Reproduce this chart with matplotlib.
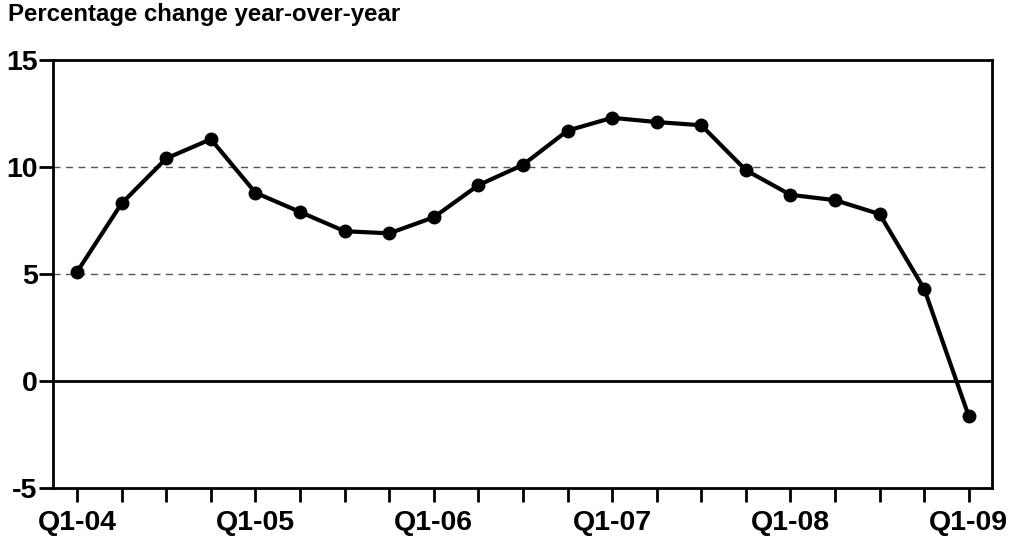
import matplotlib.pyplot as plt
import numpy as np

plt.rcParams['font.family'] = ['Liberation Sans', 'DejaVu Sans']

# quarterly data, Q1-04 .. Q1-09
values = [5.1, 8.3, 10.4, 11.3, 8.8, 7.9, 7.0, 6.9, 7.65, 9.15, 10.1,
          11.7, 12.3, 12.1, 11.95, 9.85, 8.7, 8.45, 7.8, 4.3, -1.65]
year_labels = ['Q1-04', 'Q1-05', 'Q1-06', 'Q1-07', 'Q1-08', 'Q1-09']
y_ticks = [-5, 0, 5, 10, 15]

x = np.arange(len(values))

fig = plt.figure(figsize=(10.12, 5.38), dpi=100)
ax = fig.add_axes([53/1012, 50/538, (992-53)/1012, (488-60)/538])

for g in [5, 10]:
    ax.axhline(g, color='#555555', lw=1, ls=(0, (5, 4)), zorder=1)
ax.axhline(0, color='black', lw=2, zorder=2)

ax.plot(x, values, color='black', lw=3, marker='o', markersize=9, zorder=3)

ax.set_xlim(-0.54, 20.52)
ax.set_ylim(-5, 15)
ax.set_yticks(y_ticks)
ax.set_yticklabels([str(t) for t in y_ticks], fontsize=20.5, fontweight='bold')
ax.set_xticks(x)
ax.set_xticklabels([year_labels[i // 4] if i % 4 == 0 else '' for i in x],
                   fontsize=20.5, fontweight='bold')

ax.tick_params(axis='x', direction='out', length=10, width=2, pad=6)
ax.tick_params(axis='y', direction='out', length=10, width=2, pad=1)
for s in ax.spines.values():
    s.set_linewidth(2)

fig.text(8/1012, 1 - 15/538, 'Percentage change year-over-year',
         fontsize=17.3, fontweight='bold', va='center', ha='left')

plt.savefig('out.png', dpi=100)
